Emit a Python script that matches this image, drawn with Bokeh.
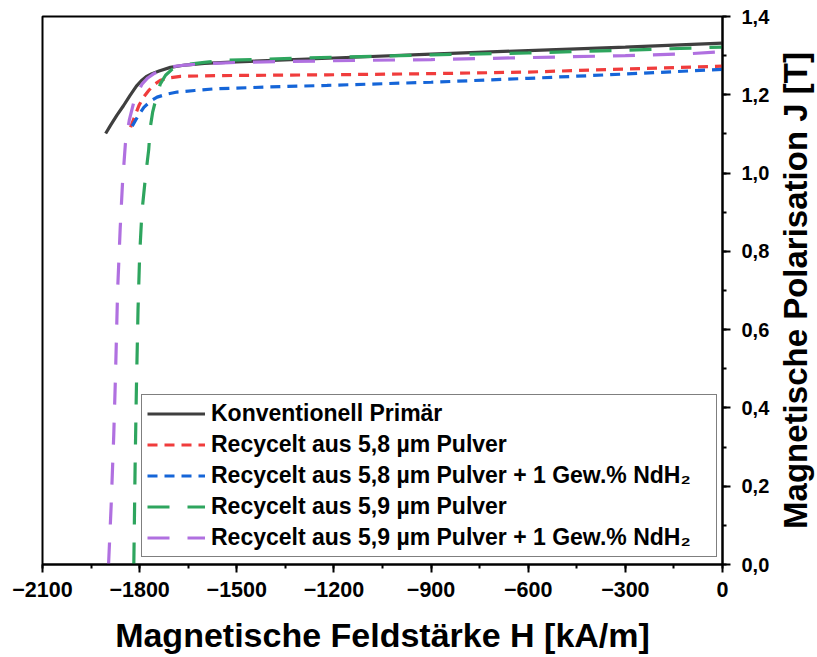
from bokeh.plotting import figure
from bokeh.layouts import row
from bokeh.models import (Legend, LegendItem, FixedTicker, CustomJSTickFormatter, Title)
from bokeh.embed import file_html
from bokeh.resources import INLINE

# Demagnetisation curves: field strength H [kA/m] vs. polarisation J [T]
H_primaer = [-1905, -1890, -1870, -1850, -1830, -1810, -1795, -1780, -1762, -1740,
             -1705, -1660, -1600, -1500, -1200, -900, -600, -300, 0]
J_primaer = [1.101, 1.122, 1.148, 1.172, 1.198, 1.222, 1.236, 1.246, 1.254, 1.261,
             1.270, 1.276, 1.280, 1.284, 1.294, 1.304, 1.313, 1.322, 1.332]

H_58 = [-1828, -1815, -1802, -1787, -1772, -1755, -1736, -1710, -1674, -1620, -1550,
        -1400, -1221, -900, -600, -300, 0]
J_58 = [1.117, 1.145, 1.173, 1.195, 1.211, 1.226, 1.237, 1.243, 1.247, 1.248, 1.249,
        1.250, 1.251, 1.254, 1.258, 1.266, 1.273]

H_58_nd = [-1823, -1805, -1787, -1766, -1746, -1715, -1684, -1630, -1571, -1400,
           -1221, -900, -600, -300, 0]
J_58_nd = [1.120, 1.146, 1.168, 1.184, 1.194, 1.202, 1.207, 1.211, 1.215, 1.220,
           1.224, 1.232, 1.242, 1.253, 1.265]

H_59 = [-1818, -1814, -1810, -1805, -1800, -1793, -1782, -1772, -1767, -1760, -1751,
        -1743, -1736, -1720, -1700, -1674, -1600, -1540, -1200, -900, -600, -300, 0]
J_59 = [0.0, 0.25, 0.45, 0.65, 0.79, 0.90, 0.99, 1.06, 1.117, 1.155, 1.185,
        1.210, 1.228, 1.250, 1.265, 1.275, 1.283, 1.288, 1.296, 1.302, 1.307, 1.314, 1.322]

H_59_nd = [-1896, -1888, -1880, -1875, -1868, -1860, -1853, -1844, -1832, -1818, -1805,
           -1792, -1775, -1756, -1730, -1705, -1660, -1612, -1489, -1200, -900, -600,
           -300, -100, 0]
J_59_nd = [0.0, 0.15, 0.33, 0.47, 0.70, 0.86, 0.973, 1.075, 1.135, 1.181, 1.208,
           1.228, 1.243, 1.254, 1.264, 1.271, 1.276, 1.279, 1.283, 1.287, 1.290, 1.295,
           1.300, 1.305, 1.310]

labels = [
    "Konventionell Primär",
    "Recycelt aus 5,8 µm Pulver",
    "Recycelt aus 5,8 µm Pulver + 1 Gew.% NdH₂",
    "Recycelt aus 5,9 µm Pulver",
    "Recycelt aus 5,9 µm Pulver + 1 Gew.% NdH₂",
]

x_ticks = [-2100, -1800, -1500, -1200, -900, -600, -300, 0]
y_ticks = [0.0, 0.2, 0.4, 0.6, 0.8, 1.0, 1.2, 1.4]
x_title = "Magnetische Feldstärke H [kA/m]"
y_title = "Magnetische Polarisation J [T]"

FONT = "Liberation Sans"
BORDER_TOP = 16
BORDER_BOTTOM = 93

p = figure(width=774, height=657, x_range=(-2100, 0), y_range=(0, 1.4),
           y_axis_location="right", output_backend="svg", toolbar_location=None,
           min_border_left=42, min_border_right=52, min_border_top=BORDER_TOP,
           min_border_bottom=BORDER_BOTTOM)
p.background_fill_color = "white"
p.border_fill_color = "white"
p.grid.visible = False
p.outline_line_color = "black"
p.outline_line_width = 2

series = [
    (H_primaer, J_primaer, "#3f3f3f", None),
    (H_58, J_58, "#f03c3c", "10 7"),
    (H_58_nd, J_58_nd, "#1565d8", "10 7"),
    (H_59, J_59, "#2ea55e", "22 18"),
    (H_59_nd, J_59_nd, "#b070e0", "22 18"),
]

items = []
for (hx, jy, col, dash), lab in zip(series, labels):
    kw = dict(line_color=col, line_width=3.2)
    if dash:
        kw["line_dash"] = dash
    r = p.line(hx, jy, **kw)
    items.append(LegendItem(label=lab, renderers=[r]))

legend = Legend(items=items, location=(99, 7))
legend.label_text_font = FONT
legend.label_text_font_style = "bold"
legend.label_text_font_size = "23px"
legend.label_text_color = "black"
legend.label_height = 27
legend.label_width = 500
legend.glyph_height = 27
legend.glyph_width = 58
legend.label_standoff = 6
legend.spacing = 4
legend.padding = 5
legend.margin = 0
legend.border_line_color = "black"
legend.border_line_width = 1
legend.background_fill_color = "white"
legend.background_fill_alpha = 1
p.add_layout(legend)

xa = p.xaxis[0]
xa.ticker = FixedTicker(ticks=x_ticks, minor_ticks=list(range(-2100, 1, 150)))
xa.formatter = CustomJSTickFormatter(
    code="return tick < 0 ? '\\u2212' + Math.abs(tick) : String(tick);")
xa.axis_label = x_title

ya = p.yaxis[0]
ya.ticker = FixedTicker(ticks=y_ticks, minor_ticks=[i / 10 for i in range(15)])
ya.formatter = CustomJSTickFormatter(code="return tick.toFixed(1).replace('.', ',');")

for ax in (xa, ya):
    ax.axis_line_width = 2
    ax.axis_line_color = "black"
    ax.major_tick_line_width = 2
    ax.minor_tick_line_width = 2
    ax.major_tick_out = 8
    ax.major_tick_in = 0
    ax.minor_tick_out = 4
    ax.minor_tick_in = 0
    ax.major_label_text_font = FONT
    ax.major_label_text_font_style = "bold"
    ax.major_label_text_color = "black"
    ax.axis_label_text_font = FONT
    ax.axis_label_text_font_style = "bold"
    ax.axis_label_text_color = "black"

xa.major_label_text_font_size = "21.5px"
xa.major_label_standoff = 9
xa.axis_label_text_font_size = "34px"
xa.axis_label_standoff = 16
ya.major_label_text_font_size = "20px"
ya.major_label_standoff = 11

# narrow strip on the right carrying the J title, reading bottom to top;
# same top/bottom borders so the row keeps both frames aligned
side = figure(width=817 - 774, height=657, output_backend="svg", toolbar_location=None,
              x_axis_location=None, y_axis_location=None,
              min_border_left=0, min_border_right=0, min_border_top=BORDER_TOP,
              min_border_bottom=BORDER_BOTTOM)
side.outline_line_color = None
side.grid.visible = False
side.background_fill_color = "white"
side.border_fill_color = "white"
side.add_layout(Title(text=y_title, align="center", standoff=0,
                      text_font=FONT, text_font_style="bold",
                      text_font_size="33px", text_color="black"), "left")

open("out.html", "w").write(file_html(row(p, side), INLINE))
